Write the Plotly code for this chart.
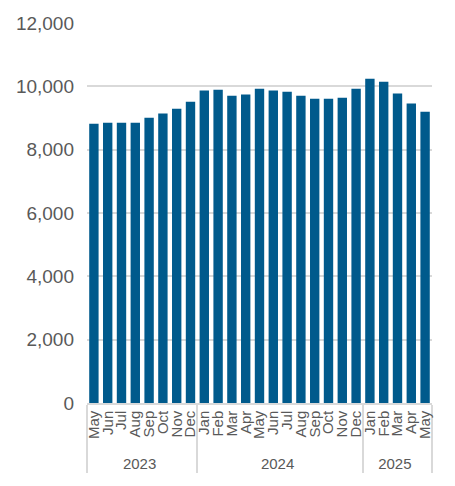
import plotly.graph_objects as go

years = ["2023"] * 8 + ["2024"] * 12 + ["2025"] * 5
months = ["May", "Jun", "Jul", "Aug", "Sep", "Oct", "Nov", "Dec",
          "Jan", "Feb", "Mar", "Apr", "May", "Jun", "Jul", "Aug", "Sep", "Oct", "Nov", "Dec",
          "Jan", "Feb", "Mar", "Apr", "May"]
values = [8820, 8850, 8850, 8850, 9010, 9140, 9295, 9515,
          9865, 9895, 9705, 9740, 9925, 9865, 9830, 9705, 9610, 9610, 9640, 9925,
          10240, 10145, 9770, 9455, 9200]

# plotly groups repeated inner labels across years, so keep each one unique
# with an invisible zero-width suffix
labels = []
for y, m in zip(years, months):
    labels.append(m + "\u200b" * (int(y) - 2023))

fig = go.Figure(go.Bar(
    x=[years, labels],
    y=values,
    marker_color="#005a8c",
    marker_line_width=0,
))

# page body adds an 8px offset, margins account for it
fig.update_layout(
    width=455, height=486,
    margin=dict(l=79, r=31, t=15, b=91),
    paper_bgcolor="white", plot_bgcolor="white",
    bargap=0.32,
    showlegend=False,
    font=dict(family="Liberation Sans, Arial", color="#595959"),
)
fig.update_yaxes(
    range=[0, 12000], dtick=2000, tickformat=",",
    showgrid=True, gridcolor="#d9d9d9", gridwidth=1.5,
    zeroline=False, showline=False, automargin=False,
    tickfont=dict(size=19), ticklabelstandoff=12,
)
fig.update_xaxes(
    type="multicategory", tickmode="linear", dtick=1,
    tickangle=-90, tickfont=dict(size=15),
    showline=True, linecolor="#d9d9d9", linewidth=1.5,
    showdividers=True, dividercolor="#d9d9d9", dividerwidth=1.5,
    ticks="", automargin=False,
)

fig.write_html("out.html")
